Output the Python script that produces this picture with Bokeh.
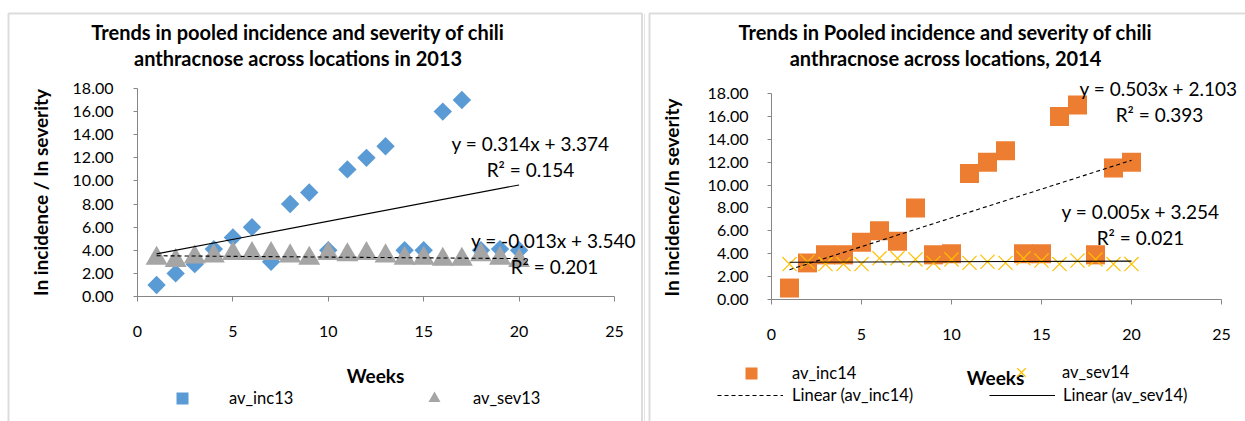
import numpy as np
from bokeh.plotting import figure
from bokeh.models import (FixedTicker, PrintfTickFormatter, Label, BoxAnnotation,
                          Legend, LegendItem, Range1d)
from bokeh.layouts import row
from bokeh.embed import file_html
from bokeh.resources import INLINE

# ---- data -------------------------------------------------------------
weeks = list(range(1, 21))
x_ticks = [0, 5, 10, 15, 20, 25]
y_ticks = [0, 2, 4, 6, 8, 10, 12, 14, 16, 18]

av_inc13 = [1.0, 2.0, 2.8, 4.1, 5.1, 6.0, 3.0, 8.0, 9.0, 4.0,
            11.0, 12.0, 13.0, 4.0, 4.0, 16.0, 17.0, 4.0, 4.1, 4.0]
av_sev13 = [3.3, 3.1, 3.4, 3.5, 3.7, 3.7, 3.7, 3.5, 3.3, 3.7,
            3.6, 3.7, 3.5, 3.3, 3.3, 3.2, 3.2, 3.6, 3.3, 3.1]
av_inc14 = [1.0, 3.2, 3.9, 3.9, 5.0, 6.0, 5.1, 8.0, 3.9, 4.0,
            11.0, 12.0, 13.0, 4.0, 4.0, 16.0, 17.0, 3.9, 11.5, 12.0]
av_sev14 = [3.1, 3.3, 3.1, 3.1, 3.1, 3.6, 3.6, 3.5, 3.2, 3.5,
            3.2, 3.3, 3.2, 3.6, 3.4, 3.1, 3.4, 3.5, 3.1, 3.1]

# linear trend lines: slope, intercept, R squared
fit_inc13 = (0.314, 3.374, 0.154)
fit_sev13 = (-0.013, 3.540, 0.201)
fit_inc14 = (0.503, 2.103, 0.393)
fit_sev14 = (0.005, 3.254, 0.021)

title13 = ["Trends in pooled incidence and severity  of chili",
           "anthracnose  across locations in 2013"]
title14 = ["Trends in Pooled incidence and severity of chili",
           "anthracnose across locations, 2014"]
ylabel13 = "In incidence / In severity"
ylabel14 = "In incidence/In severity"
xlabel = "Weeks"

# ---- style ------------------------------------------------------------
FONT = "Lato"
AXIS_GRAY = "#868686"
FRAME_GRAY = "#8c8c8c"
BLUE = "#5B9BD5"
GRAY = "#A5A5A5"
ORANGE = "#ED7D31"
YELLOW = "#FFC000"
H = 421
X_MAX, Y_MAX = 25, 18
TITLE_SIZE = "20px"
AXIS_TITLE_SIZE = "19px"
EQ_SIZE = "19px"
LEGEND_SIZE = "16.5px"


def make_panel(width, ax_x0, ax_x1, ax_y0, ax_y1, tick_standoff_y):
    """Figure whose plotting frame fills the whole canvas; the axes sit at
    the data origin and span 0..25 (x) and 0..18 (y) between the given
    canvas pixels."""
    sx = (ax_x1 - ax_x0) / X_MAX
    sy = (ax_y1 - ax_y0) / Y_MAX
    xr = Range1d(-ax_x0 / sx, (width - ax_x0) / sx)
    yr = Range1d((ax_y1 - H) / sy, ax_y1 / sy)
    p = figure(width=width, height=H, x_range=xr, y_range=yr,
               output_backend="svg", toolbar_location=None,
               min_border_left=0, min_border_right=0,
               min_border_top=0, min_border_bottom=0)
    p.title.visible = False
    p.outline_line_color = None
    p.grid.visible = False
    p.background_fill_color = "white"
    p.border_fill_color = "white"

    xa, ya = p.xaxis[0], p.yaxis[0]
    xa.fixed_location = 0
    ya.fixed_location = 0
    xa.bounds = (0, X_MAX)
    ya.bounds = (0, Y_MAX)
    xa.ticker = FixedTicker(ticks=x_ticks)
    ya.ticker = FixedTicker(ticks=y_ticks)
    ya.formatter = PrintfTickFormatter(format="%.2f")
    for ax in (xa, ya):
        ax.axis_line_color = AXIS_GRAY
        ax.axis_line_width = 1
        ax.major_tick_line_color = AXIS_GRAY
        ax.major_tick_in = 0
        ax.minor_tick_line_color = None
        ax.major_label_text_font = FONT
        ax.major_label_text_font_size = "16px"
        ax.major_label_text_color = "black"
    xa.major_tick_out = 5
    xa.major_label_standoff = 24
    ya.major_tick_out = 4
    ya.major_label_standoff = tick_standoff_y

    def at(px, py):
        # canvas pixel -> data coordinates of this panel
        return (px - ax_x0) / sx, (ax_y1 - py) / sy

    return p, at


def text(p, at, px, py, s, size, bold=False, angle=0.0, align="center"):
    x, y = at(px, py)
    p.add_layout(Label(x=x, y=y, text=s, text_font=FONT, text_font_size=size,
                       text_font_style="bold" if bold else "normal",
                       text_align=align, text_baseline="middle", angle=angle,
                       text_color="black"))


def box(p, at, x0, y0, x1, y1, width=2, color=FRAME_GRAY):
    l, t = at(x0, y0)
    r, b = at(x1, y1)
    p.add_layout(BoxAnnotation(left=l, right=r, top=t, bottom=b, fill_alpha=0,
                               line_color=color, line_width=width))


def legend(p, renderer, label, left, bottom, gw, gh, standoff):
    p.add_layout(Legend(items=[LegendItem(label=label, renderers=[renderer])],
                        location=(left, H - bottom), orientation="vertical",
                        glyph_width=gw, glyph_height=gh, label_height=gh,
                        label_standoff=standoff, padding=0, margin=0, spacing=0,
                        border_line_color=None, background_fill_alpha=0,
                        label_text_font=FONT, label_text_font_size=LEGEND_SIZE,
                        label_text_color="black"))


def trend(p, fit, dash):
    m, b, _ = fit
    xs = np.array([weeks[0], weeks[-1]], dtype=float)
    return p.line(xs, m * xs + b, line_color="black", line_width=1.1, line_dash=dash)


def equation(fit):
    m, b, r2 = fit
    return f"y = {m:.3f}x + {b:.3f}", f"R\u00b2 = {r2:.3f}"


# ---- 2013 panel -------------------------------------------------------
p1, at1 = make_panel(645, 137, 614, 88, 296, 20)
box(p1, at1, 8, 13, 641.5, 440)
box(p1, at1, 644.5, 13, 644.5, 440, width=1.5)

r_inc13 = p1.scatter(weeks, av_inc13, marker="square", angle=np.pi / 4, size=13,
                     fill_color=BLUE, line_color=None)
r_sev13 = p1.scatter(weeks, av_sev13, marker="triangle", size=22,
                     fill_color=GRAY, line_color=None)
trend(p1, fit_inc13, "solid")
trend(p1, fit_sev13, "4 3")

text(p1, at1, 300, 31, title13[0], TITLE_SIZE, bold=True)
text(p1, at1, 300, 57, title13[1], TITLE_SIZE, bold=True)
text(p1, at1, 40, 192, ylabel13, AXIS_TITLE_SIZE, bold=True, angle=np.pi / 2)
text(p1, at1, 375, 375, xlabel, AXIS_TITLE_SIZE, bold=True)
e1, q1 = equation(fit_inc13)
text(p1, at1, 530, 143, e1, EQ_SIZE)
text(p1, at1, 530, 169, q1, EQ_SIZE)
e2, q2 = equation(fit_sev13)
text(p1, at1, 553, 240, e2, EQ_SIZE)
text(p1, at1, 554, 266, q2, EQ_SIZE)

legend(p1, r_inc13, "av_inc13", 167, 413, 30, 30, 32)
legend(p1, r_sev13, "av_sev13", 419, 413, 30, 30, 24)

# ---- 2014 panel -------------------------------------------------------
p2, at2 = make_panel(600, 126, 576, 93, 299, 19)
box(p2, at2, 4, 13, 700, 440)

r_inc14 = p2.scatter(weeks, av_inc14, marker="square", size=19,
                     fill_color=ORANGE, line_color=None)
r_sev14 = p2.scatter(weeks, av_sev14, marker="x", size=20,
                     line_color=YELLOW, line_width=1.2)
l_inc14 = trend(p2, fit_inc14, "4 3")
l_sev14 = trend(p2, fit_sev14, "solid")

text(p2, at2, 300, 31, title14[0], TITLE_SIZE, bold=True)
text(p2, at2, 300, 57, title14[1], TITLE_SIZE, bold=True)
text(p2, at2, 26, 197, ylabel14, AXIS_TITLE_SIZE, bold=True, angle=np.pi / 2)
text(p2, at2, 350, 377, xlabel, AXIS_TITLE_SIZE, bold=True)
e3, q3 = equation(fit_inc14)
text(p2, at2, 513, 88, e3, EQ_SIZE)
text(p2, at2, 514, 114, q3, EQ_SIZE)
e4, q4 = equation(fit_sev14)
text(p2, at2, 495, 211, e4, EQ_SIZE)
text(p2, at2, 495, 237, q4, EQ_SIZE)

legend(p2, r_inc14, "av_inc14", 91, 388, 30, 30, 26)
legend(p2, l_inc14, "Linear (av_inc14)", 72, 405, 66, 20, 9)
legend(p2, r_sev14, "av_sev14", 361, 387, 30, 30, 26)
legend(p2, l_sev14, "Linear (av_sev14)", 344, 405, 66, 20, 8)

layout = row(p1, p2)
open("out.html", "w").write(file_html(layout, INLINE))
